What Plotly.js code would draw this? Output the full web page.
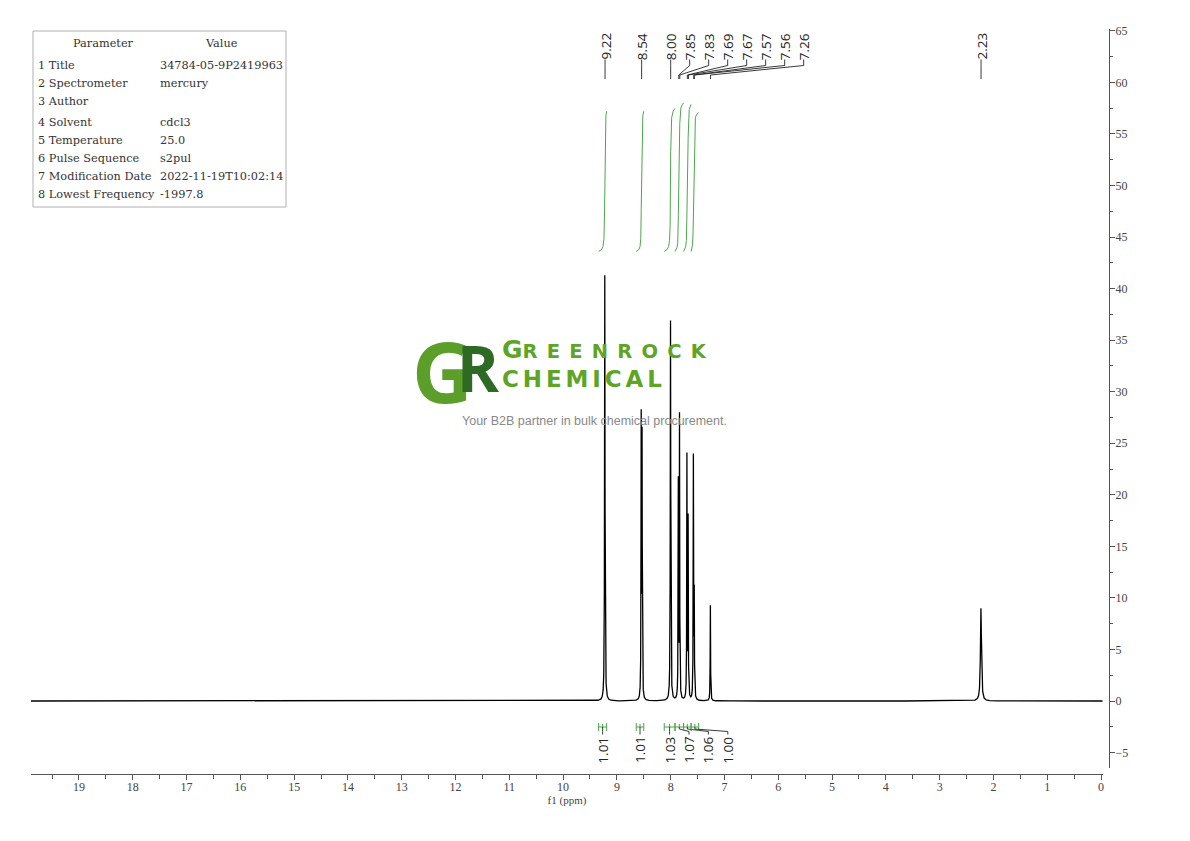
<!DOCTYPE html>
<html>
<head>
<meta charset="utf-8">
<script src="https://cdn.plot.ly/plotly-3.0.1.min.js"></script>
<style>html,body{margin:0;padding:0;background:#fff;}#chart{width:1190px;height:841px;}</style>
</head>
<body>
<div id="chart"></div>
<script>
// ---------------- DATA ----------------
const peakPpm    = [9.225, 8.548, 8.532, 8.003, 7.858, 7.836, 7.698, 7.676, 7.578, 7.562, 7.262, 2.232];
const peakHeight = [41.3, 28.3, 26.6, 36.9, 21.8, 28.0, 24.1, 18.2, 24.0, 11.3, 9.3, 9.0];
const peakWidth  = [0.005, 0.004, 0.004, 0.005, 0.004, 0.004, 0.004, 0.004, 0.004, 0.004, 0.004, 0.011];

const shiftLabels = ['9.22', '8.54', '8.00', '7.85', '7.83', '7.69', '7.67', '7.57', '7.56', '7.26', '2.23'];

const integralFrom   = [9.34, 8.64, 8.12, 7.92, 7.76, 7.62];
const integralTo     = [9.19, 8.50, 7.92, 7.76, 7.62, 7.48];
const integralValues = ['1.01', '1.01', '1.03', '1.07', '1.06', '1.00'];

const paramNames  = ['1 Title', '2 Spectrometer', '3 Author', '4 Solvent', '5 Temperature', '6 Pulse Sequence', '7 Modification Date', '8 Lowest Frequency'];
const paramValues = ['34784-05-9P2419963', 'mercury', '', 'cdcl3', '25.0', 's2pul', '2022-11-19T10:02:14', '-1997.8'];

const xTickVals = [19, 18, 17, 16, 15, 14, 13, 12, 11, 10, 9, 8, 7, 6, 5, 4, 3, 2, 1, 0];
const yTickVals = [65, 60, 55, 50, 45, 40, 35, 30, 25, 20, 15, 10, 5, 0, -5];

// ---------------- LAYOUT GEOMETRY ----------------
const XR = [19.892, -0.037];
const YR = [-6.5, 65.18];
const M = {l: 31, r: 81, t: 29, b: 67};
const PW = 1190 - M.l - M.r, PH = 841 - M.t - M.b;
const XDOM = [0, 0.99443], YDOM = [0.008, 1];
const ppmPerPx = (XR[0] - XR[1]) / (PW * (XDOM[1] - XDOM[0]));
const yTopPx = M.t, yBotPx = M.t + PH * (1 - YDOM[0]);
const unitPerPx = (YR[1] - YR[0]) / (yBotPx - yTopPx);
const yAtPx = py => YR[1] - (py - yTopPx) * unitPerPx;
const pxX = px => (px - M.l) / PW;          // paper x
const pxY = py => (M.t + PH - py) / PH;    // paper y

// ---------------- SPECTRUM (Lorentzian lines from the peak table) ----------------
function lor(x, c, g) { return g * g / ((x - c) * (x - c) + g * g); }
const n = peakPpm.length;
const A = [];
for (let i = 0; i < n; i++) {
  A.push([]);
  for (let j = 0; j < n; j++) A[i].push(lor(peakPpm[i], peakPpm[j], peakWidth[j]));
  A[i].push(peakHeight[i]);
}
for (let k = 0; k < n; k++) {
  let p = k;
  for (let i = k + 1; i < n; i++) if (Math.abs(A[i][k]) > Math.abs(A[p][k])) p = i;
  [A[k], A[p]] = [A[p], A[k]];
  for (let i = 0; i < n; i++) {
    if (i === k) continue;
    const f = A[i][k] / A[k][k];
    for (let j = k; j <= n; j++) A[i][j] -= f * A[k][j];
  }
}
const amp = A.map((r, i) => r[n] / r[i]);
const specAt = x => { let s = 0; for (let j = 0; j < n; j++) s += amp[j] * lor(x, peakPpm[j], peakWidth[j]); return s; };

let xs = [];
for (let x = XR[0]; x >= XR[1]; x -= 0.04) xs.push(x);
peakPpm.forEach((c, j) => {
  const span = peakWidth[j] * 50;
  for (let x = c - span; x <= c + span; x += peakWidth[j] / 8) xs.push(x);
  xs.push(c);
});
xs = xs.filter(x => x <= XR[0] && x >= XR[1]).sort((a, b) => b - a);
const spec = xs.map(specAt);

const traces = [{
  x: xs, y: spec, type: 'scatter', mode: 'lines',
  line: {color: '#000', width: 1.3}, hoverinfo: 'skip', showlegend: false
}];

// ---------------- INTEGRAL CURVES ----------------
const intBase = 43.6, intScale = 13.47;
integralFrom.forEach((a, i) => {
  const b = integralTo[i];
  const gx = [];
  for (let x = a; x >= b; x -= 0.0005) gx.push(x);
  const f = gx.map(specAt);
  const cum = [0];
  for (let k = 1; k < gx.length; k++) cum.push(cum[k - 1] + (f[k] + f[k - 1]) / 2);
  const tot = cum[cum.length - 1];
  const top = intScale * parseFloat(integralValues[i]);
  traces.push({
    x: gx, y: cum.map(c => intBase + top * c / tot), type: 'scatter', mode: 'lines',
    line: {color: '#4ca64c', width: 1}, hoverinfo: 'skip', showlegend: false
  });
});

// ---------------- SHAPES & ANNOTATIONS ----------------
const shapes = [];
const annotations = [];
const lblFont = {family: 'Open Sans', size: 13.5, color: '#222'};

// peak labels (top)
const pkTextY = yAtPx(46.5), pkY1 = yAtPx(59.5), pkY2 = yAtPx(65.5), pkY3 = yAtPx(75), pkY4 = yAtPx(79);
const lblStep = 19 * ppmPerPx;
let prevLbl = Infinity;
shiftLabels.forEach(t => {
  const p = parseFloat(t);
  const lx = Math.min(p, prevLbl - lblStep);
  prevLbl = lx;
  annotations.push({x: lx, y: pkTextY, xref: 'x', yref: 'y', text: t, showarrow: false, textangle: -90, font: lblFont});
  shapes.push({type: 'path', xref: 'x', yref: 'y',
    path: `M${lx},${pkY1} L${lx},${pkY2} L${p},${pkY3} L${p},${pkY4}`,
    line: {color: '#222', width: 0.9}});
});

// integral brackets & labels (bottom)
const brY = yAtPx(727), brTick = 4 * unitPerPx;
const inTextY = yAtPx(750), inY1 = yAtPx(729), inY2 = yAtPx(731.5), inY3 = yAtPx(734.5);
const inStep = 19.4 * ppmPerPx;
let prevIn = Infinity;
integralFrom.forEach((a, i) => {
  const b = integralTo[i];
  const mid = (a + b) / 2;
  shapes.push({type: 'path', xref: 'x', yref: 'y',
    path: `M${a},${brY - brTick} L${a},${brY + brTick} M${a},${brY} L${b},${brY} M${b},${brY - brTick} L${b},${brY + brTick} M${mid},${brY} L${mid},${brY + brTick * 0.8}`,
    line: {color: '#4ca64c', width: 1}});
  const lx = Math.min(mid, prevIn - inStep);
  prevIn = lx;
  shapes.push({type: 'path', xref: 'x', yref: 'y',
    path: `M${mid},${brY} L${mid},${inY1} L${lx},${inY2} L${lx},${inY3}`,
    line: {color: '#222', width: 0.9}});
  annotations.push({x: lx, y: inTextY, xref: 'x', yref: 'y', text: integralValues[i], showarrow: false, textangle: -90, font: lblFont});
});

// parameter table
shapes.push({type: 'rect', xref: 'paper', yref: 'paper', x0: pxX(33), x1: pxX(286), y0: pxY(31), y1: pxY(207),
  line: {color: '#b0b0b0', width: 1}, fillcolor: '#fff', layer: 'below'});
const tFont = {family: 'DejaVu Serif, Liberation Serif, serif', size: 11.3, color: '#333'};
annotations.push({x: pxX(103), y: pxY(43), xref: 'paper', yref: 'paper', text: 'Parameter', showarrow: false, font: tFont, xanchor: 'center', yanchor: 'middle'});
annotations.push({x: pxX(221), y: pxY(43), xref: 'paper', yref: 'paper', text: 'Value', showarrow: false, font: tFont, xanchor: 'center', yanchor: 'middle'});
const rowY = [65, 83, 101, 123, 141, 159, 177, 194];
paramNames.forEach((nm, i) => {
  annotations.push({x: pxX(36), y: pxY(rowY[i]), xref: 'paper', yref: 'paper', text: nm, showarrow: false, font: tFont, xanchor: 'left', yanchor: 'middle'});
  if (paramValues[i]) annotations.push({x: pxX(158), y: pxY(rowY[i]), xref: 'paper', yref: 'paper', text: paramValues[i], showarrow: false, font: tFont, xanchor: 'left', yanchor: 'middle'});
});

// watermark logo
annotations.push({x: pxX(411), y: pxY(371), xref: 'paper', yref: 'paper',
  text: '<b><span style="color:#5c9e2a;letter-spacing:-16px">G</span><span style="color:#2f6a24;font-size:64px;baseline-shift:11px">R</span></b>',
  showarrow: false, font: {family: 'Open Sans', size: 84, color: '#5c9e2a', weight: 800}, xanchor: 'left', yanchor: 'middle', borderpad: 0});
annotations.push({x: pxX(501), y: pxY(349), xref: 'paper', yref: 'paper',
  text: '<b><span style="font-size:25px">G</span><span style="letter-spacing:9.2px">REENROCK</span></b>',
  showarrow: false, font: {family: 'DejaVu Sans', size: 19.5, color: '#5ea526'}, xanchor: 'left', yanchor: 'middle', borderpad: 0});
annotations.push({x: pxX(501), y: pxY(379), xref: 'paper', yref: 'paper',
  text: '<b><span style="letter-spacing:3.9px">CHEMICAL</span></b>',
  showarrow: false, font: {family: 'DejaVu Sans', size: 23, color: '#5ea526'}, xanchor: 'left', yanchor: 'middle', borderpad: 0});
annotations.push({x: pxX(594), y: pxY(421), xref: 'paper', yref: 'paper', text: 'Your B2B partner in bulk chemical procurement.', showarrow: false,
  font: {family: 'Liberation Sans, Arial, sans-serif', size: 12.5, color: '#888'}, xanchor: 'center', yanchor: 'middle'});

const axFont = {family: 'Liberation Serif, DejaVu Serif, serif', size: 12, color: '#444'};
const layout = {
  width: 1190, height: 841,
  margin: M,
  paper_bgcolor: '#fff', plot_bgcolor: 'rgba(0,0,0,0)',
  showlegend: false,
  xaxis: {
    domain: XDOM, range: XR, anchor: 'free', position: 0,
    showline: true, linecolor: '#555', linewidth: 1,
    ticks: 'outside', ticklen: 5, tickcolor: '#555', tickwidth: 1, ticklabelstandoff: -3,
    tickvals: xTickVals, ticktext: xTickVals.map(String),
    minor: {dtick: 0.5, tick0: 0, ticks: 'outside', ticklen: 4, tickcolor: '#555', showgrid: false},
    showgrid: false, zeroline: false, tickfont: axFont,
    title: {text: 'f1 (ppm)', font: {family: 'Liberation Serif, DejaVu Serif, serif', size: 11, color: '#444'}, standoff: 2}
  },
  yaxis: {
    domain: YDOM, range: YR, side: 'right', anchor: 'free', position: 1,
    showline: true, linecolor: '#555', linewidth: 1,
    ticks: 'outside', ticklen: 5, tickcolor: '#555', tickwidth: 1, ticklabelstandoff: -2,
    tickvals: yTickVals, ticktext: yTickVals.map(v => v < 0 ? '\u2212' + Math.abs(v) : String(v)),
    minor: {dtick: 2.5, tick0: 0, ticks: 'outside', ticklen: 3, tickcolor: '#555', showgrid: false},
    showgrid: false, zeroline: false, tickfont: axFont
  },
  shapes: shapes,
  annotations: annotations
};

Plotly.newPlot('chart', traces, layout, {staticPlot: true, displayModeBar: false});
</script>
</body>
</html>
